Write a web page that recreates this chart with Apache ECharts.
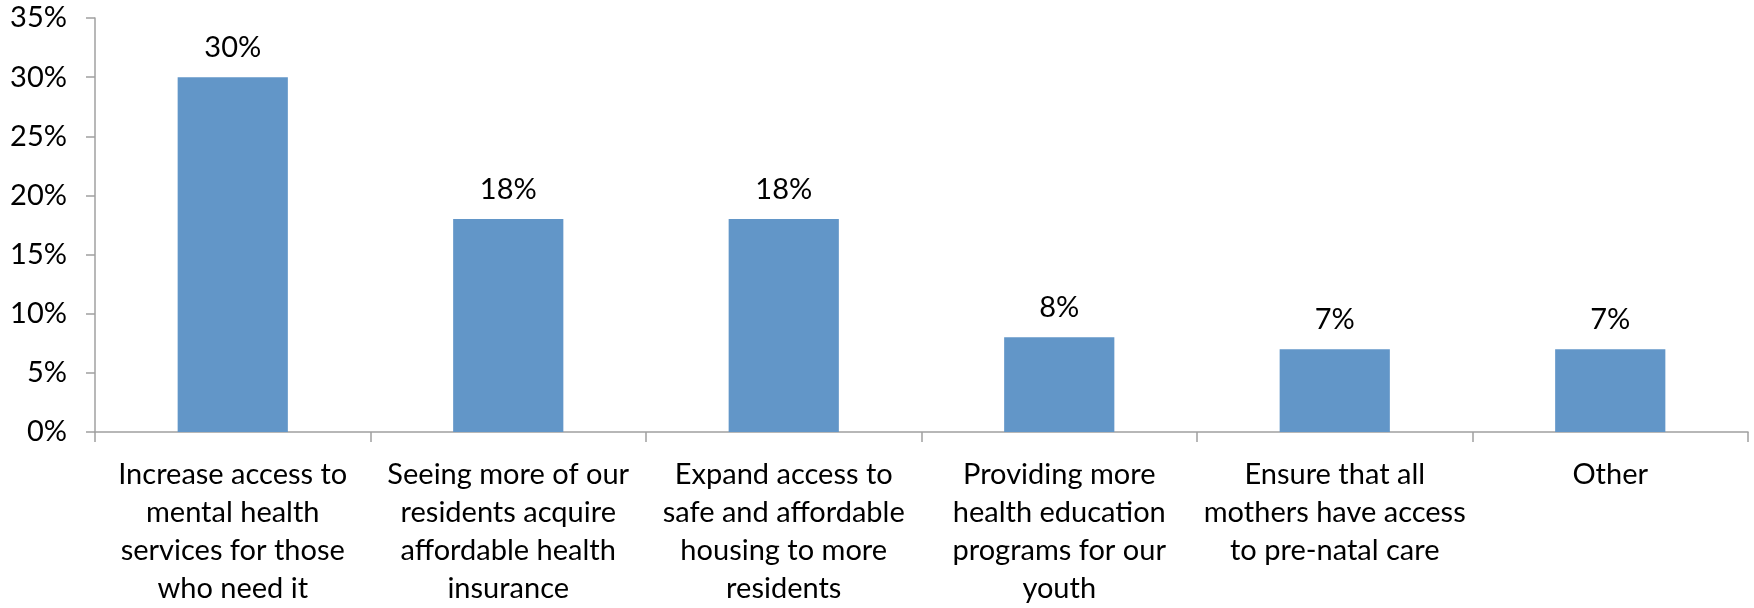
<!DOCTYPE html>
<html>
<head>
<meta charset="utf-8">
<script src="https://cdn.jsdelivr.net/npm/echarts@6/dist/echarts.min.js"></script>
<style>
  html, body { margin: 0; padding: 0; background: #ffffff; }
  #chart { width: 1754px; height: 608px; }
</style>
</head>
<body>
<div id="chart"></div>
<script>
const categories = [
  'Increase access to\nmental health\nservices for those\nwho need it',
  'Seeing more of our\nresidents acquire\naffordable health\ninsurance',
  'Expand access to\nsafe and affordable\nhousing to more\nresidents',
  'Providing more\nhealth education\nprograms for our\nyouth',
  'Ensure that all\nmothers have access\nto pre-natal care',
  'Other'
];
const shares = [30, 18, 18, 8, 7, 7];

const chart = echarts.init(document.getElementById('chart'));
const fontFamily = 'Lato';
const axisColor = '#a0a0a0';

const option = {
  animation: false,
  textStyle: { fontFamily: fontFamily },
  grid: { left: 95, right: 6, top: 18, bottom: 171, containLabel: false },
  xAxis: {
    type: 'category',
    data: categories,
    axisLine: { lineStyle: { color: axisColor, width: 1.5 } },
    axisTick: { show: true, length: 10, lineStyle: { color: axisColor, width: 1.5 } },
    axisLabel: {
      color: '#000000',
      fontSize: 29,
      lineHeight: 38,
      margin: 24,
      interval: 0,
      fontFamily: fontFamily
    }
  },
  yAxis: {
    type: 'value',
    min: 0,
    max: 35,
    interval: 5,
    splitLine: { show: false },
    axisLine: { show: true, lineStyle: { color: axisColor, width: 1.5 } },
    axisTick: { show: true, length: 9, lineStyle: { color: axisColor, width: 1.5 } },
    axisLabel: {
      color: '#000000',
      fontSize: 29,
      margin: 28,
      formatter: '{value}%',
      fontFamily: fontFamily
    }
  },
  series: [
    {
      type: 'bar',
      data: shares,
      barWidth: '40%',
      itemStyle: { color: '#6296C8' },
      label: {
        show: true,
        position: 'top',
        distance: 15,
        color: '#000000',
        fontSize: 29,
        formatter: '{c}%',
        fontFamily: fontFamily
      }
    }
  ]
};

chart.setOption(option);
</script>
</body>
</html>
